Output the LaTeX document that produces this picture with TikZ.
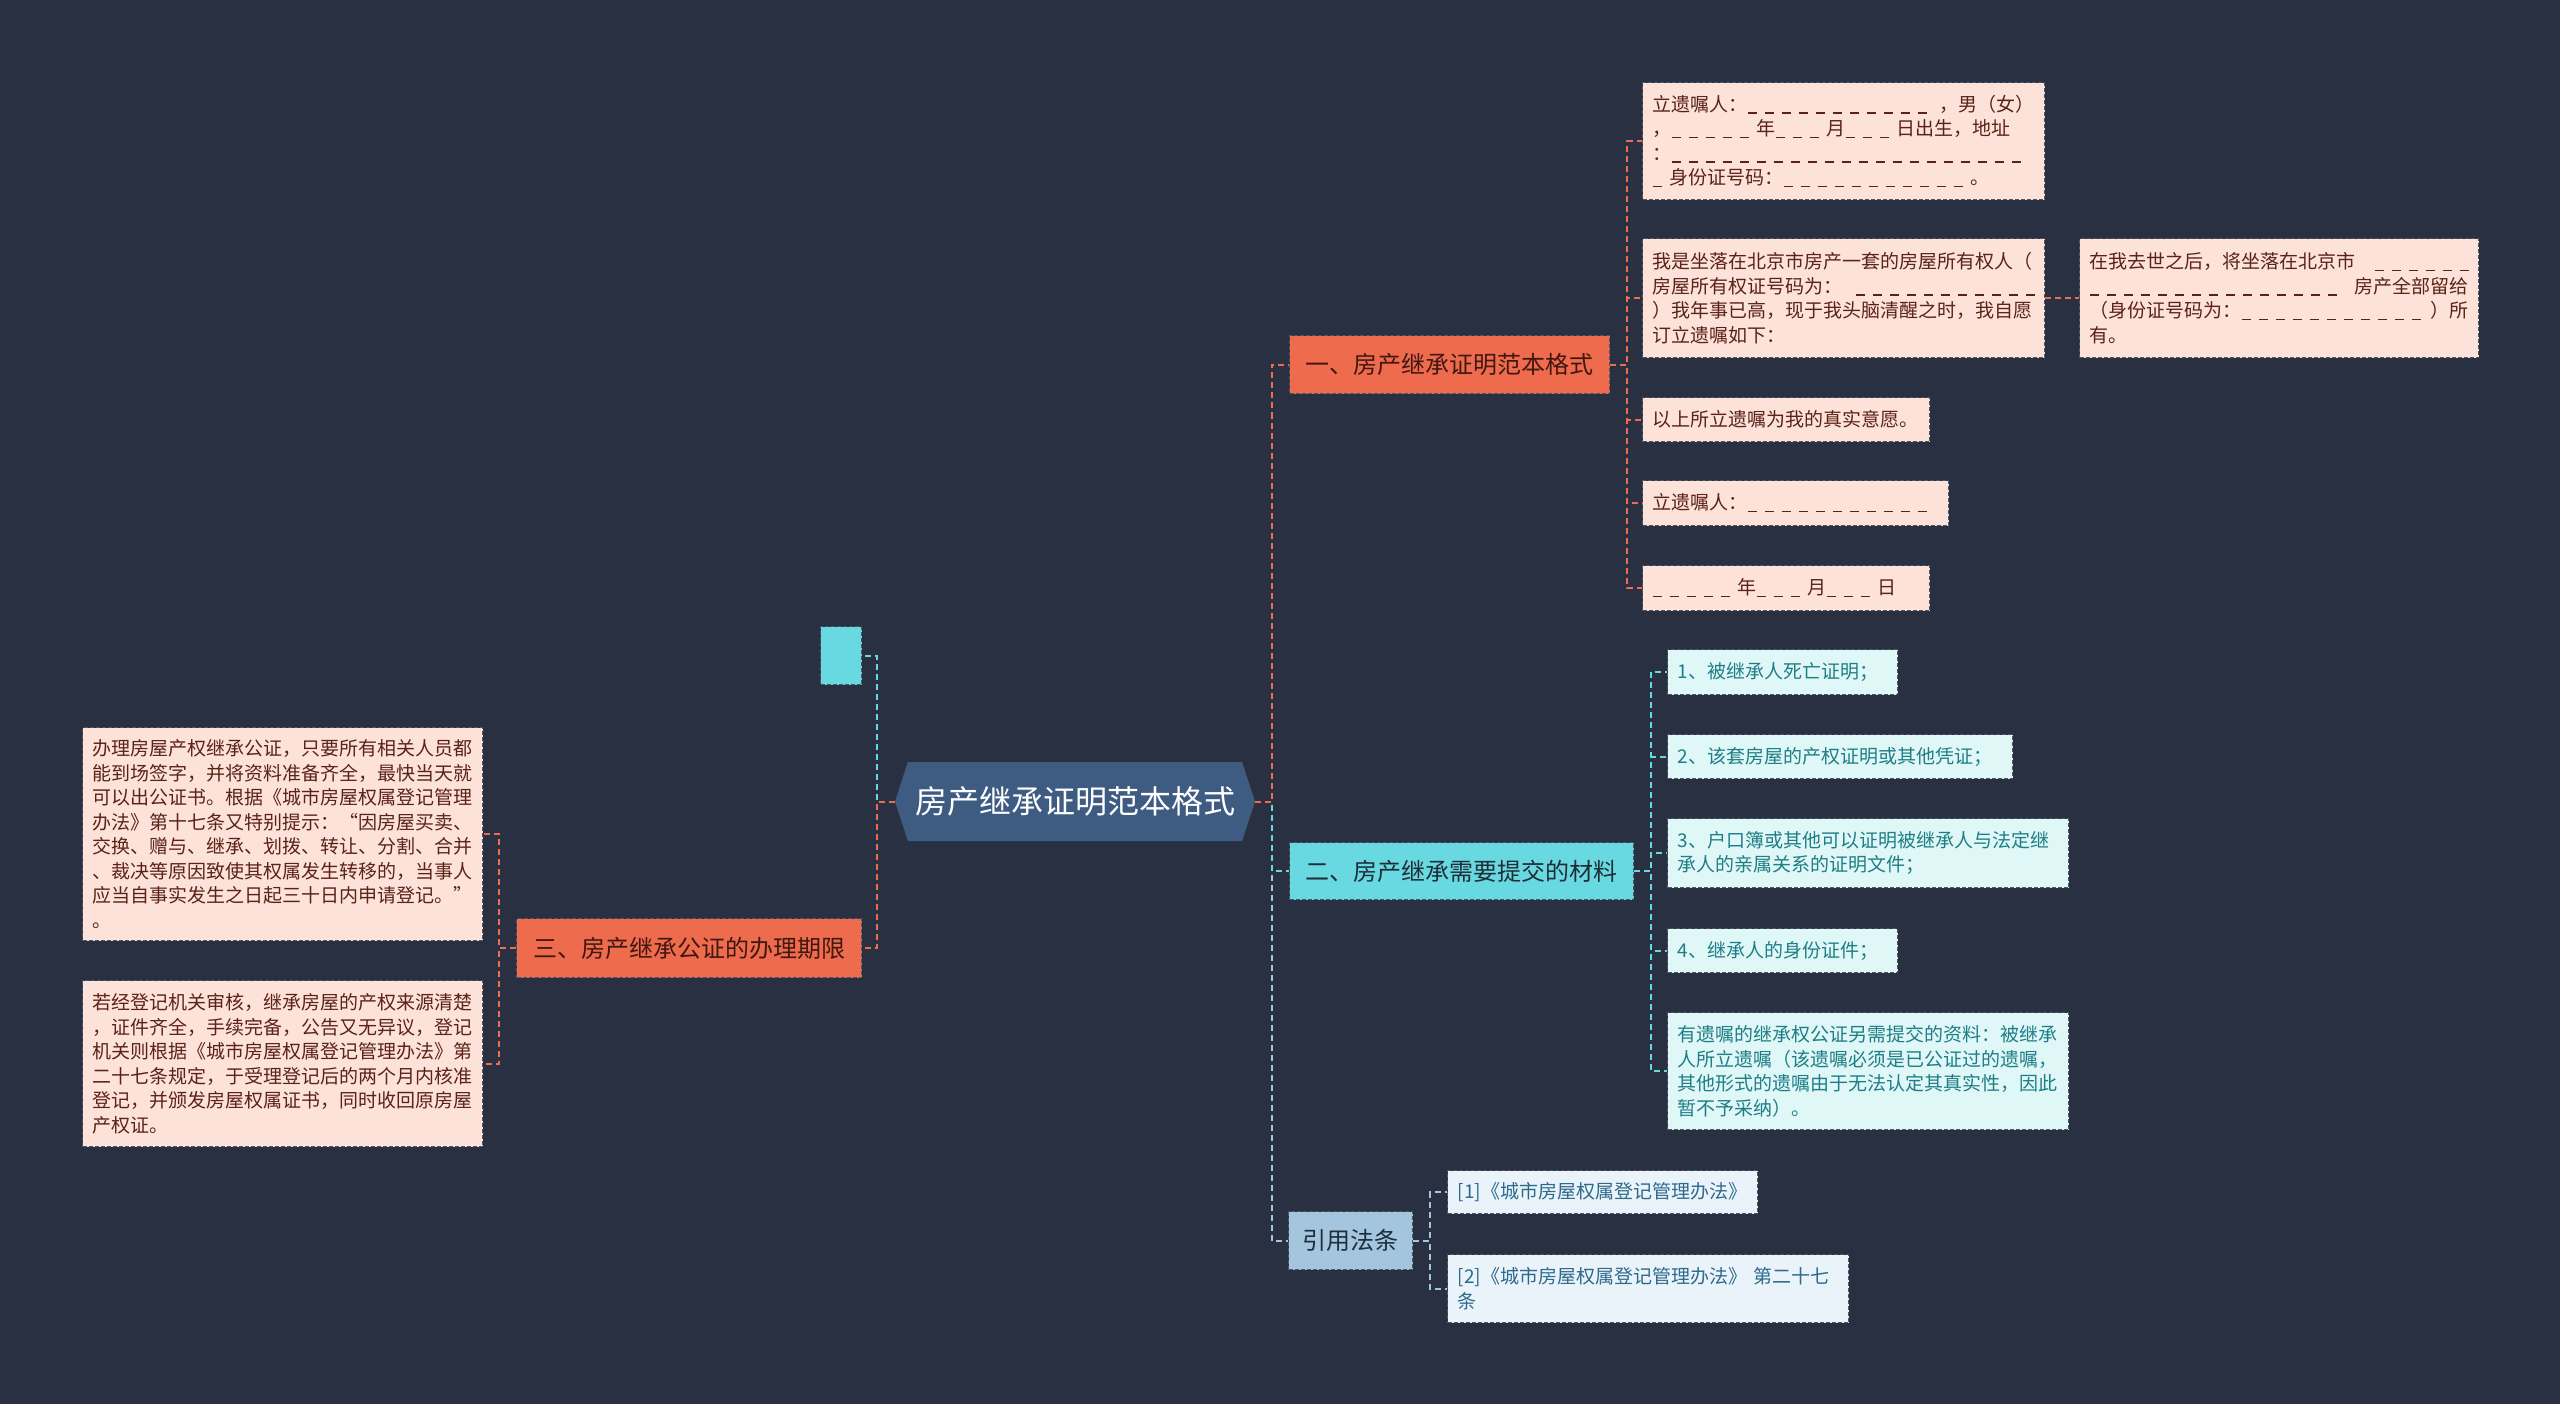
\documentclass[tikz,border=0pt]{standalone}
\usepackage{fontspec}
\setmainfont{Noto Sans CJK SC}
\usetikzlibrary{shapes.symbols}
\definecolor{bgc}{HTML}{283041}
\definecolor{rootc}{HTML}{3E5B82}
\definecolor{orc}{HTML}{EE6B4D}
\definecolor{cyc}{HTML}{69D9E1}
\definecolor{lbc}{HTML}{A3C6DE}
\definecolor{pinkf}{HTML}{FDE2DA}
\definecolor{pinkt}{HTML}{5B2318}
\definecolor{tealf}{HTML}{E0F7F8}
\definecolor{tealt}{HTML}{1E7E86}
\definecolor{bluef}{HTML}{EAF3F9}
\definecolor{bluet}{HTML}{2D6A8C}
\definecolor{bdc}{HTML}{4E5563}
\newcommand\oneblank{\rule[-2.5pt]{9pt}{1.5pt}\hspace{8pt}}
\ExplSyntaxOn
\cs_new:Npn \myblk #1 {\prg_replicate:nn {#1} {\oneblank}}
\ExplSyntaxOff
\tikzset{
  leafbox/.style={draw=bdc, dash pattern=on 4pt off 2pt, line width=1.2pt,
    font=\fontsize{19}{24.5}\selectfont, align=left, inner xsep=10pt, inner ysep=3pt, anchor=north west},
  pk/.style={leafbox, fill=pinkf, text=pinkt},
  tl/.style={leafbox, fill=tealf, text=tealt},
  bl/.style={leafbox, fill=bluef, text=bluet},
  branch/.style={draw=bdc, dash pattern=on 4pt off 2pt, line width=1.2pt,
    font=\fontsize{24}{30}\selectfont, inner sep=2pt, anchor=north west},
  conn/.style={line width=2pt, dash pattern=on 6pt off 4pt},
}
\begin{document}
\begin{tikzpicture}[x=1pt,y=-1pt]
\fill[bgc] (0,0) rectangle (2560,1404);
\useasboundingbox (0,0) rectangle (2560,1404);

% root
\node[signal, signal to=east and west, signal pointer angle=144, fill=rootc, text=white,
  font=\fontsize{32}{38}\selectfont, minimum width=360pt, minimum height=79pt, inner sep=0pt]
  (root) at (1075,801.5) {房产继承证明范本格式};

% branches
\node[branch, fill=orc, text=pinkt!70!black, minimum width=320pt, minimum height=58pt] (b1) at (1289,335) {一、房产继承证明范本格式};
\node[branch, fill=cyc, text={rgb,255:red,30;green,45;blue,55}, minimum width=344pt, minimum height=57pt] (b2) at (1289,842) {二、房产继承需要提交的材料};
\node[branch, fill=lbc, text={rgb,255:red,30;green,45;blue,60}, minimum width=124pt, minimum height=58pt] (b3) at (1288,1211) {引用法条};
\node[branch, fill=orc, text=pinkt!70!black, minimum width=345pt, minimum height=59pt] (b4) at (516,918) {三、房产继承公证的办理期限};
\node[branch, fill=cyc, minimum width=41pt, minimum height=58pt] (cy) at (820,626) {};

% branch 1 children
\node[pk, text width=382pt, minimum height=117pt] (c1) at (1642,82)
 {立遗嘱人：\myblk{11}\hfill，男（女）\\，\myblk{5}年\myblk{3}月\myblk{3}日出生，地址\\：\myblk{21}\\\myblk{1}身份证号码：\myblk{11}。};
\node[pk, text width=382pt, minimum height=119pt] (c2) at (1642,238)
 {我是坐落在北京市房产一套的房屋所有权人（\\房屋所有权证号码为：\hfill\myblk{11}\\）我年事已高，现于我头脑清醒之时，我自愿\\订立遗嘱如下：};
\node[pk, text width=379pt, minimum height=119pt] (g) at (2079,238)
 {在我去世之后，将坐落在北京市\hfill\myblk{6}\\\myblk{15}\hfill 房产全部留给\\（身份证号码为：\myblk{11}\hfill）所\\有。};
\node[pk, text width=267pt, minimum height=44pt] (c3) at (1642,397) {以上所立遗嘱为我的真实意愿。};
\node[pk, text width=286pt, minimum height=45pt] (c4) at (1642,480) {立遗嘱人：\myblk{11}};
\node[pk, text width=267pt, minimum height=45pt] (c5) at (1642,565) {\myblk{5}年\myblk{3}月\myblk{3}日};

% branch 2 children
\node[tl, text width=210pt, minimum height=45pt] (d1) at (1667,649) {1、被继承人死亡证明；};
\node[tl, text width=325pt, minimum height=44pt] (d2) at (1667,734) {2、该套房屋的产权证明或其他凭证；};
\node[tl, text width=381pt, minimum height=69pt] (d3) at (1667,818) {3、户口簿或其他可以证明被继承人与法定继\\承人的亲属关系的证明文件；};
\node[tl, text width=210pt, minimum height=44pt] (d4) at (1667,928) {4、继承人的身份证件；};
\node[tl, text width=381pt, minimum height=117pt] (d5) at (1667,1012) {有遗嘱的继承权公证另需提交的资料：被继承\\人所立遗嘱（该遗嘱必须是已公证过的遗嘱，\\其他形式的遗嘱由于无法认定其真实性，因此\\暂不予采纳）。};

% branch 3 children
\node[bl, text width=290pt, minimum height=43pt] (e1) at (1447,1170) {[1]《城市房屋权属登记管理办法》};
\node[bl, text width=381pt, minimum height=68pt] (e2) at (1447,1254) {[2]《城市房屋权属登记管理办法》 第二十七\\条};

% left children
\node[pk, text width=380pt, minimum height=213pt] (l1) at (82,727) {办理房屋产权继承公证，只要所有相关人员都\\能到场签字，并将资料准备齐全，最快当天就\\可以出公证书。根据《城市房屋权属登记管理\\办法》第十七条又特别提示：“因房屋买卖、\\交换、赠与、继承、划拨、转让、分割、合并\\、裁决等原因致使其权属发生转移的，当事人\\应当自事实发生之日起三十日内申请登记。”\\。};
\node[pk, text width=380pt, minimum height=166pt] (l2) at (82,980) {若经登记机关审核，继承房屋的产权来源清楚\\，证件齐全，手续完备，公告又无异议，登记\\机关则根据《城市房屋权属登记管理办法》第\\二十七条规定，于受理登记后的两个月内核准\\登记，并颁发房屋权属证书，同时收回原房屋\\产权证。};

% connectors right
\draw[conn, lbc] (root.east) -- ++(17,0) |- (b3.west);
\draw[conn, cyc] (root.east) -- ++(17,0) |- (b2.west);
\draw[conn, orc] (root.east) -- ++(17,0) |- (b1.west);
\foreach \c in {c1,c2,c3,c4,c5} \draw[conn, orc] (b1.east) -- ++(17,0) |- (\c.west);
\draw[conn, orc] (c2.east) -- (g.west);
\foreach \c in {d1,d2,d3,d4,d5} \draw[conn, cyc] (b2.east) -- ++(17,0) |- (\c.west);
\foreach \c in {e1,e2} \draw[conn, lbc] (b3.east) -- ++(17,0) |- (\c.west);
% connectors left
\draw[conn, cyc] (root.west) -- ++(-18,0) |- (cy.east);
\draw[conn, orc] (root.west) -- ++(-18,0) |- (b4.east);
\foreach \c in {l1,l2} \draw[conn, orc] (b4.west) -- ++(-17,0) |- (\c.east);
\end{tikzpicture}
\end{document}
